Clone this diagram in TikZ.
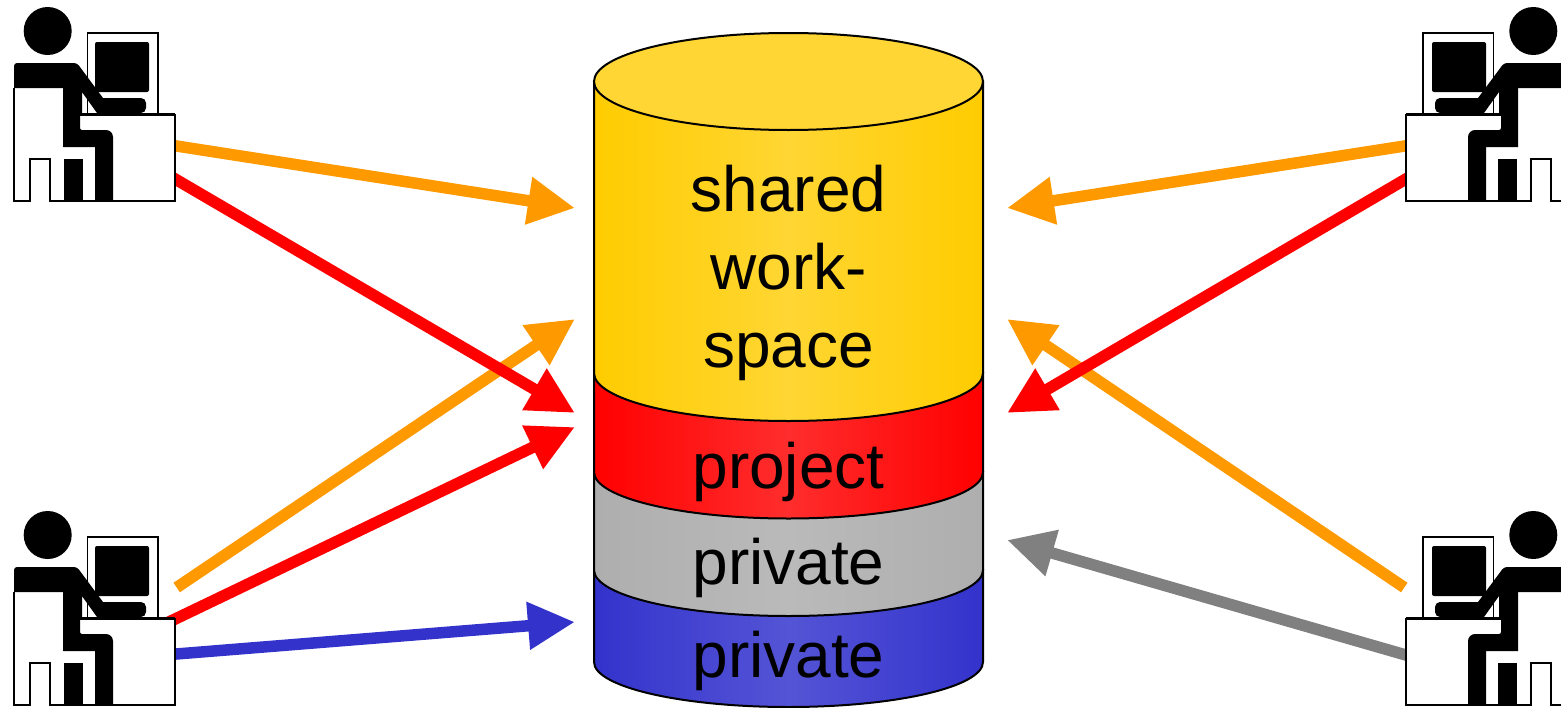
\documentclass[tikz,border=0pt]{standalone}
\usepackage{fontspec}
\setmainfont{Liberation Sans}
\usetikzlibrary{arrows.meta}
\definecolor{cOrange}{RGB}{255,153,0}
\definecolor{cGrey}{RGB}{128,128,128}
\definecolor{cBlue}{RGB}{51,51,204}
\definecolor{cBlueMid}{RGB}{84,84,214}
\definecolor{cYellow}{RGB}{255,204,0}
\definecolor{cYellowMid}{RGB}{255,214,51}
\definecolor{cRedMid}{RGB}{255,45,45}
\definecolor{cGreyEdge}{RGB}{174,174,174}
\definecolor{cGreyMid}{RGB}{186,186,186}
\tikzset{
  conn/.style={line width=11.5pt,-{Triangle[length=47pt,width=45pt]},#1},
  outl/.style={draw=black,line width=2pt},
  layertext/.style={font=\fontsize{64}{78}\selectfont,align=center,text=black,inner sep=0pt},
  pics/worker/.style={code={
    % chair
    \draw[line width=1.5pt,fill=white] (14,88) -- (14,201) -- (30,201) -- (30,159) -- (50,159) -- (50,201) -- (84,201);
    % monitor
    \draw[line width=1.5pt,fill=white] (87.5,33) rectangle (158,114);
    \fill[rounded corners=2pt] (95,42) rectangle (149,92);
    % desk
    \draw[line width=1.5pt,fill=white] (80,114.5) -- (175,114.5) -- (175,201) -- (80,201);
    \draw[line width=2.5pt] (80,114.5) -- (175,114.5);
    % head
    \fill (47.7,31) circle (24);
    % body
    \fill (14,88) -- (14,68) [rounded corners=3pt] -- (14,63) -- (77,63) [rounded corners=0pt] -- (103,98) [rounded corners=5pt] -- (146,98) -- (146,113) [rounded corners=0pt] -- (97,113) -- (82,92) -- (82,115) -- (80,115) -- (80,126) [rounded corners=2pt] -- (80,130) [rounded corners=7pt] -- (113,130) [rounded corners=0pt] -- (113,201) -- (95,201) -- (95,147) -- (63,147) -- (63,88) -- cycle;
    % leg
    \fill (64,159) rectangle (83,201);
  }},
}
\begin{document}
\begin{tikzpicture}[x=1pt,y=-1pt]
\useasboundingbox (0,0) rectangle (1561,707);
\begin{scope}
\clip (0,0) rectangle (1561,707);
% cylinder, bottom up
\shade[left color=cBlue,right color=cBlue,middle color=cBlueMid,outl] (594,570) -- (594,662) arc[start angle=180,end angle=0,x radius=194.5,y radius=45] -- (983,570) -- cycle;
\shade[left color=cGreyEdge,right color=cGreyEdge,middle color=cGreyMid,outl] (594,472) -- (594,570) arc[start angle=180,end angle=0,x radius=194.5,y radius=46] -- (983,472) -- cycle;
\shade[left color=red,right color=red,middle color=cRedMid,outl] (594,373) -- (594,472) arc[start angle=180,end angle=0,x radius=194.5,y radius=46.5] -- (983,373) -- cycle;
\shade[left color=cYellow,right color=cYellow,middle color=cYellowMid,outl] (594,81.5) -- (594,373) arc[start angle=180,end angle=0,x radius=194.5,y radius=48] -- (983,81.5) -- cycle;
\filldraw[fill=cYellowMid,outl] (788.5,81.5) ellipse[x radius=194.5,y radius=48.5];
% labels
\node[layertext,text width=300pt] (shared) at (788.5,273) {shared\\work-\\space};
\node[layertext] (project) at (788.5,472) {project};
\node[layertext] (privA) at (788.5,568) {private};
\node[layertext] (privB) at (788.5,661) {private};
% connector ends
\coordinate (a1) at (170,145);   \coordinate (b1) at (575,208);
\coordinate (a2) at (170,176);   \coordinate (b2) at (575,413);
\coordinate (a3) at (176.7,587.5);   \coordinate (b3) at (575,319);
\coordinate (a4) at (160,626.3);   \coordinate (b4) at (575,427);
\coordinate (a5) at (170,654.5);   \coordinate (b5) at (575,622);
\coordinate (a6) at (1411,145);  \coordinate (b6) at (1007,208);
\coordinate (a7) at (1411,176);  \coordinate (b7) at (1007,413);
\coordinate (a8) at (1404.3,587.5);  \coordinate (b8) at (1007,319);
\coordinate (a9) at (1411,656.5);  \coordinate (b9) at (1007,540);
\draw[conn=cOrange,cOrange] (a3) -- (b3);
\draw[conn=red,red] (a2) -- (b2);
\draw[conn=cOrange,cOrange] (a1) -- (b1);
\draw[conn=red,red] (a4) -- (b4);
\draw[conn=cBlue,cBlue] (a5) -- (b5);
\draw[conn=cOrange,cOrange] (a8) -- (b8);
\draw[conn=red,red] (a7) -- (b7);
\draw[conn=cOrange,cOrange] (a6) -- (b6);
\draw[conn=cGrey,cGrey] (a9) -- (b9);
% workers
\pic (tl) at (0,0) {worker};
\pic (bl) at (0,504) {worker};
\pic[xscale=-1] (tr) at (1581,0) {worker};
\pic[xscale=-1] (br) at (1581,504) {worker};
\end{scope}
\end{tikzpicture}
\end{document}
